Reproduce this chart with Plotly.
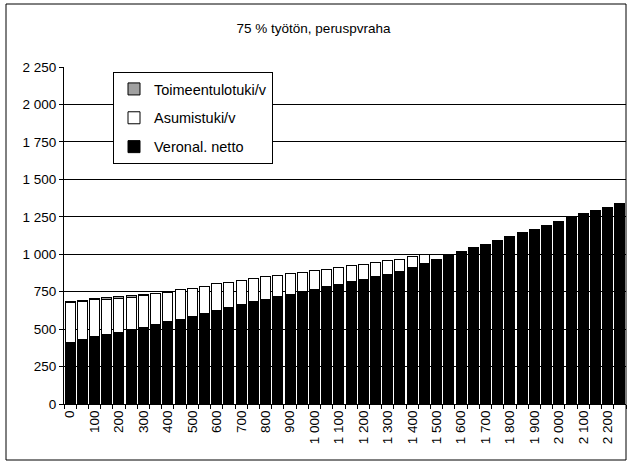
import plotly.graph_objects as go

# tulotaso (€/kk) - kategoriat
tulot = [0, 50, 100, 150, 200, 250, 300, 350, 400, 450,
         500, 550, 600, 650, 700, 750, 800, 850, 900, 950,
         1000, 1050, 1100, 1150, 1200, 1250, 1300, 1350, 1400, 1450,
         1500, 1550, 1600, 1650, 1700, 1750, 1800, 1850, 1900, 1950,
         2000, 2050, 2100, 2150, 2200, 2250]

veronal_netto = [410, 434, 450, 466, 477, 495, 510, 528, 548, 566,
                 586, 603, 624, 642, 662, 682, 697, 715, 731, 749,
                 764, 782, 796, 815, 831, 849, 867, 885, 914, 940,
                 965, 989, 1016, 1042, 1067, 1094, 1118, 1143, 1168, 1194,
                 1221, 1245, 1270, 1292, 1315, 1339]

asumistuki = [271, 253, 245, 234, 229, 217, 213, 208, 199, 196,
              187, 183, 178, 171, 162, 158, 152, 145, 140, 131,
              127, 118, 115, 109, 103, 98, 91, 82, 71, 58,
              0, 0, 0, 0, 0, 0, 0, 0, 0, 0,
              0, 0, 0, 0, 0, 0]

toimeentulotuki = [3, 6, 7, 8, 9, 12, 10, 4, 0, 0,
                   0, 0, 0, 0, 0, 0, 0, 0, 0, 0,
                   0, 0, 0, 0, 0, 0, 0, 0, 0, 0,
                   0, 0, 0, 0, 0, 0, 0, 0, 0, 0,
                   0, 0, 0, 0, 0, 0]

kategoriat = [str(t) for t in tulot]
# joka toinen tunniste näkyviin, välilyönti tuhaterottimena
tunnisteet = [f"{t:,}".replace(",", " ") if i % 2 == 0 else "" for i, t in enumerate(tulot)]

FONT = "Arial, Liberation Sans, sans-serif"

fig = go.Figure()

fig.add_trace(go.Bar(x=kategoriat, y=veronal_netto, name="Veronal. netto",
                     marker=dict(color="black", line=dict(color="black", width=1)),
                     legendgroup="a", legendrank=3))
fig.add_trace(go.Bar(x=kategoriat, y=asumistuki, name="Asumistuki/v",
                     marker=dict(color="white", line=dict(color="black", width=1)),
                     legendgroup="b", legendrank=2))
fig.add_trace(go.Bar(x=kategoriat, y=toimeentulotuki, name="Toimeentulotuki/v",
                     marker=dict(color="#a0a0a0", line=dict(color="black", width=1)),
                     legendgroup="c", legendrank=1))

# ulkokehys
fig.add_shape(type="rect", xref="paper", yref="paper",
              x0=(6 - 64) / 562, x1=(626 - 64) / 562,
              y0=(404 - 460) / 337, y1=(404 - 4) / 337,
              line=dict(color="black", width=1), layer="below")

fig.update_layout(
    width=627, height=462,
    margin=dict(l=64, r=1, t=67, b=58),
    paper_bgcolor="white", plot_bgcolor="white",
    barmode="stack", bargap=0.18,
    separators=", ",
    font=dict(family=FONT, size=13.5, color="black"),
    title=dict(text="75 % työtön, peruspvraha", x=0.5, xanchor="center",
               y=1 - 28 / 462, yanchor="middle", font=dict(size=13.5)),
    showlegend=True,
    legend=dict(x=(113 - 64) / 562, y=(404 - 72) / 337, xanchor="left", yanchor="top",
                traceorder="grouped", tracegroupgap=7,
                bgcolor="white", bordercolor="black", borderwidth=1,
                font=dict(size=14.5), itemwidth=30),
    xaxis=dict(type="category", tickmode="array", tickvals=kategoriat, ticktext=tunnisteet,
               tickangle=-90, tickson="boundaries", ticks="outside", ticklen=4,
               tickcolor="black", showgrid=False, showline=True, linecolor="black",
               tickfont=dict(size=13.5)),
    yaxis=dict(range=[0, 2250], dtick=250, tickformat=",d", ticks="outside", ticklen=4,
               tickcolor="black", showline=True, linecolor="black",
               showgrid=True, gridcolor="black", gridwidth=1, zeroline=False,
               tickfont=dict(size=13.5)),
)

fig.write_html("out.html", config={"displayModeBar": False},
               post_script="document.body.style.margin='0';")
